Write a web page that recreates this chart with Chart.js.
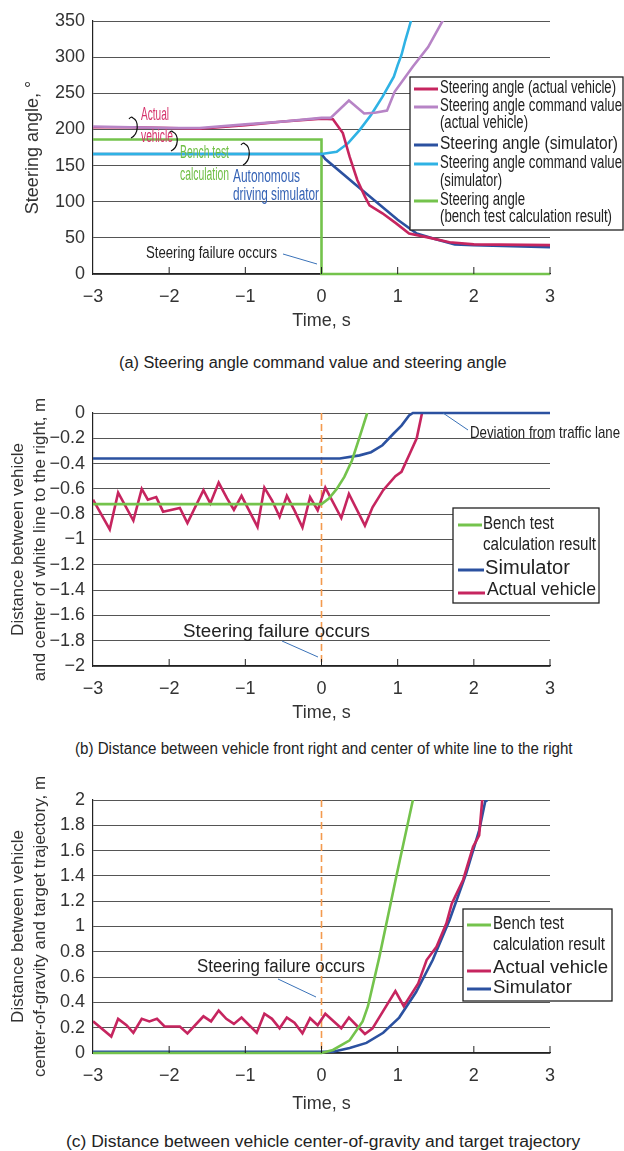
<!DOCTYPE html>
<html>
<head>
<meta charset="utf-8">
<script src="https://cdn.jsdelivr.net/npm/chart.js@4.4.1/dist/chart.umd.min.js"></script>
<style>
  body { margin: 0; background: #fff; }
  #page { position: relative; width: 624px; height: 1151px; overflow: hidden; font-family: "Liberation Sans", Arial, sans-serif; }
  canvas { position: absolute; left: 0; }
  .cap { position: absolute; white-space: nowrap; color: #222; font-size: 16px; line-height: 20px; transform-origin: 0 50%; }
</style>
</head>
<body>
<div id="page">
  <canvas id="chartA" width="624" height="345" style="top:0px"></canvas>
  <div class="cap" data-x="119" data-y="363" data-w="388">(a) Steering angle command value and steering angle</div>
  <canvas id="chartB" width="624" height="350" style="top:385px"></canvas>
  <div class="cap" data-x="75" data-y="749" data-w="498">(b) Distance between vehicle front right and center of white line to the right</div>
  <canvas id="chartC" width="624" height="350" style="top:775px"></canvas>
  <div class="cap" data-x="66" data-y="1142" data-w="514">(c) Distance between vehicle center-of-gravity and target trajectory</div>
</div>
<script>
// ---- data ----
// (a) steering angle, deg
const aActualT = [-3, -2.5, -2, -1.6, -1, -0.5, 0, 0.15, 0.28, 0.37, 0.47, 0.57, 0.63, 0.8, 0.98, 1.15, 1.38, 1.68, 2, 3];
const aActualV = [203, 203, 202, 201, 206, 211, 215, 214, 195, 162, 130, 107, 95, 84, 70, 56, 51, 44, 41, 40];
const aCmdT = [-3, -2.5, -2, -1.6, -1, -0.5, 0, 0.12, 0.36, 0.56, 0.7, 0.86, 0.96, 1.2, 1.4, 1.6];
const aCmdV = [204, 203, 202, 202, 207, 211, 216, 216, 240, 222, 223, 226, 252, 287, 314, 352];
const aSimT = [-3, 0, 0.05, 0.5, 1.0, 1.25, 1.5, 1.75, 2, 3];
const aSimV = [166, 166, 159, 119, 75, 56, 48, 41, 40, 37];
const aSimCmdT = [-3, 0, 0.2, 0.35, 0.5, 0.65, 0.8, 0.95, 1.0, 1.05, 1.1, 1.15, 1.19];
const aSimCmdV = [166, 166, 169, 181, 199, 220, 245, 273, 289, 303, 323, 341, 356];
const aBenchT = [-3, 0, 0, 3];
const aBenchV = [186, 186, 0, 0];

// (b) distance to white line on the right, m
const bBenchT = [-3, 0, 0.1, 0.2, 0.3, 0.4, 0.5, 0.6];
const bBenchV = [-0.72, -0.72, -0.675, -0.6, -0.505, -0.375, -0.19, 0];
const bSimT = [-3, 0.24, 0.5, 0.65, 0.8, 0.95, 1.05, 1.15, 1.2, 3];
const bSimV = [-0.36, -0.36, -0.335, -0.31, -0.255, -0.16, -0.1, -0.02, 0, 0];
const bActT = [-3, -2.78, -2.67, -2.47, -2.36, -2.28, -2.17, -2.08, -1.86, -1.76, -1.55, -1.46, -1.35, -1.24, -1.15, -1.05,
  -0.84, -0.75, -0.65, -0.55, -0.455, -0.355, -0.25, -0.15, -0.05, 0.05, 0.26, 0.36, 0.57, 0.67, 0.81, 0.97, 1.05, 1.16, 1.25, 1.32];
const bActV = [-0.685, -0.92, -0.63, -0.85, -0.6, -0.685, -0.665, -0.78, -0.75, -0.87, -0.61, -0.715, -0.55, -0.675, -0.765, -0.655,
  -0.9, -0.59, -0.69, -0.82, -0.655, -0.77, -0.905, -0.665, -0.77, -0.59, -0.83, -0.64, -0.89, -0.745, -0.61, -0.5, -0.465, -0.32, -0.2, 0];

// (c) distance to target trajectory, m
const cBenchT = [-3, 0, 0.15, 0.37, 0.54, 0.61, 0.76, 0.98, 1.2];
const cBenchV = [0, 0, 0.024, 0.1, 0.25, 0.37, 0.76, 1.39, 2.0];
const cSimT = [-3, 0.15, 0.37, 0.59, 0.81, 1.02, 1.24, 1.46, 1.68, 1.9, 2.07, 2.15, 2.18];
const cSimV = [0.01, 0.01, 0.04, 0.08, 0.16, 0.28, 0.48, 0.735, 1.05, 1.42, 1.76, 1.99, 2.0];
const cActT = [-3, -2.76, -2.67, -2.56, -2.47, -2.36, -2.26, -2.16, -2.06, -1.86, -1.76, -1.55, -1.45, -1.35, -1.25, -1.15, -1.05,
  -0.85, -0.75, -0.65, -0.55, -0.455, -0.355, -0.25, -0.15, -0.05, 0.05, 0.26, 0.36, 0.57, 0.67, 0.97, 1.08, 1.27, 1.38, 1.51, 1.64, 1.71, 1.86, 1.99, 2.07, 2.11];
const cActV = [0.25, 0.13, 0.27, 0.22, 0.16, 0.27, 0.25, 0.27, 0.21, 0.21, 0.155, 0.29, 0.25, 0.335, 0.27, 0.23, 0.28,
  0.16, 0.31, 0.27, 0.195, 0.28, 0.24, 0.155, 0.275, 0.22, 0.31, 0.195, 0.28, 0.15, 0.195, 0.49, 0.37, 0.55, 0.735, 0.84, 1.025, 1.18, 1.37, 1.63, 1.72, 2.0];

const xTicks = [-3, -2, -1, 0, 1, 2, 3];

// colours
const RED = '#c6255f', PURPLE = '#b784c6', NAVY = '#2b51a0', CYAN = '#2fb2e4', GREEN = '#74c34c';
const FONT = '"Liberation Sans", Arial, Helvetica, sans-serif';

function pts(t, v) { return t.map((x, i) => ({ x: x, y: v[i] })); }
function fmt(v) { return String(Math.round(v * 10) / 10).replace('-', '\u2212'); }

// text helper, squeezes to a target width when given
function txt(ctx, s, x, y, size, color, w) {
  ctx.save();
  ctx.font = size + 'px ' + FONT;
  ctx.fillStyle = color;
  ctx.textBaseline = 'middle';
  ctx.textAlign = 'left';
  const k = w ? w / ctx.measureText(s).width : 1;
  ctx.translate(x, y);
  ctx.scale(k, 1);
  ctx.fillText(s, 0, 0);
  ctx.restore();
}

function seg(ctx, x1, y1, x2, y2, color, width) {
  ctx.save();
  ctx.strokeStyle = color;
  ctx.lineWidth = width;
  ctx.beginPath();
  ctx.moveTo(x1, y1);
  ctx.lineTo(x2, y2);
  ctx.stroke();
  ctx.restore();
}

// extra drawing: inward x ticks, t=0 dashed marker, notes, boxed legend (page coords)
function deco(top, spec) {
  return {
    id: 'deco',
    beforeDatasetsDraw(chart) {
      if (!spec.dash0) return;
      const ctx = chart.ctx, a = chart.chartArea;
      const x = chart.scales.x.getPixelForValue(0);
      ctx.save();
      ctx.setLineDash([7, 4]);
      seg(ctx, x, a.top, x, a.bottom, '#f39a4e', 1.6);
      ctx.restore();
    },
    afterDraw(chart) {
      const ctx = chart.ctx, a = chart.chartArea;
      xTicks.slice(1).forEach(v => {
        const x = chart.scales.x.getPixelForValue(v);
        seg(ctx, x, a.bottom, x, a.bottom - 7, '#222', 1);
      });
      (spec.leaders || []).forEach(l => seg(ctx, l[0], l[1] - top, l[2], l[3] - top, '#3a72b8', 1));
      (spec.braces || []).forEach(b => {
        ctx.save();
        ctx.strokeStyle = '#111';
        ctx.lineWidth = 1.2;
        ctx.beginPath();
        ctx.moveTo(b[0] - 2, b[1] - top + 2);
        ctx.quadraticCurveTo(b[0], b[1] - top - 1, b[0] + 2, b[1] - top + 1);
        ctx.bezierCurveTo(b[0] + 8, b[1] - top + 4, b[0] + 8, b[2] - top - 4, b[0], b[2] - top);
        ctx.stroke();
        ctx.restore();
      });
      (spec.notes || []).forEach(n => txt(ctx, n[0], n[1], n[2] - top, n[3], n[4], n[5]));
      if (spec.legend) {
        const L = spec.legend;
        ctx.save();
        ctx.fillStyle = '#fff';
        ctx.strokeStyle = '#222';
        ctx.lineWidth = 1.3;
        ctx.fillRect(L.box[0], L.box[1] - top, L.box[2], L.box[3]);
        ctx.strokeRect(L.box[0], L.box[1] - top, L.box[2], L.box[3]);
        ctx.restore();
        L.swatches.forEach(s => seg(ctx, s[0], s[2] - top, s[1], s[2] - top, s[3], 3));
        L.texts.forEach(n => txt(ctx, n[0], n[1], n[2] - top, n[3], '#222', n[4]));
      }
    }
  };
}

function makeChart(id, top, H, area, titleY, yCfg, datasets, spec) {
  const xH = H - (area.bottom - top);
  return new Chart(document.getElementById(id), {
    type: 'line',
    data: { datasets: datasets },
    options: {
      responsive: false,
      animation: false,
      layout: { padding: { top: area.top - top, right: 74, left: 0, bottom: 0 } },
      plugins: { legend: { display: false }, tooltip: { enabled: false } },
      elements: { point: { radius: 0 }, line: { tension: 0, borderWidth: 2.6 } },
      scales: {
        x: {
          type: 'linear', min: -3, max: 3,
          afterBuildTicks: s => { s.ticks = xTicks.map(v => ({ value: v })); },
          ticks: { padding: 4, font: { size: 18, family: FONT }, color: '#333', callback: fmt },
          grid: { display: false },
          border: { color: '#222', width: 1.2 },
          title: { display: true, text: 'Time, s', color: '#333', font: { size: 18, family: FONT },
                   padding: { top: 0, bottom: (top + H - titleY) - 10.8 } },
          afterFit: s => { s.height = xH; }
        },
        y: {
          min: yCfg.min, max: yCfg.max,
          ticks: { stepSize: yCfg.step, padding: 8, font: { size: 18, family: FONT }, color: '#333', callback: fmt },
          grid: { color: '#555', lineWidth: 1, drawTicks: false },
          border: { color: '#222', width: 1.2 },
          title: { display: true, text: yCfg.title, color: '#333',
                   font: { size: yCfg.titleSize, family: FONT, lineHeight: 1.3 },
                   padding: { top: yCfg.titlePad, bottom: 0 } },
          afterFit: s => { s.width = 93; }
        }
      }
    },
    plugins: [deco(top, spec)]
  });
}

// (a)
makeChart('chartA', 0, 345, { top: 21, bottom: 274 }, 321,
  { min: 0, max: 350, step: 50, title: 'Steering angle, \u00b0', titleSize: 18, titlePad: 21 },
  [
    { data: pts(aCmdT, aCmdV), borderColor: PURPLE },
    { data: pts(aActualT, aActualV), borderColor: RED },
    { data: pts(aSimCmdT, aSimCmdV), borderColor: CYAN },
    { data: pts(aSimT, aSimV), borderColor: NAVY },
    { data: pts(aBenchT, aBenchV), borderColor: GREEN, clip: { left: 0, top: 0, right: 0, bottom: 3 } }
  ],
  {
    notes: [
      ['Actual', 141, 115, 18, '#d6336c', 28], ['vehicle', 141, 137, 18, '#d6336c', 32],
      ['Bench test', 180, 153, 18, '#6fbf45', 49], ['calculation', 180, 175, 18, '#6fbf45', 49],
      ['Autonomous', 233, 177, 18, '#3462b5', 67], ['driving simulator', 233, 195, 18, '#3462b5', 86],
      ['Steering failure occurs', 146, 253, 17, '#222', 131]
    ],
    braces: [[131, 117, 138], [171, 131, 151], [243, 143, 165]],
    leaders: [[283, 254, 317, 264]],
    legend: {
      box: [410, 77, 213, 153],
      swatches: [[414, 438, 89, RED], [414, 438, 107, PURPLE], [414, 438, 145, NAVY], [414, 438, 164, CYAN], [414, 438, 201, GREEN]],
      texts: [
        ['Steering angle (actual vehicle)', 440, 88, 18, 176],
        ['Steering angle command value', 440, 106, 18, 182],
        ['(actual vehicle)', 440, 123, 18, 88],
        ['Steering angle (simulator)', 440, 144, 19, 178],
        ['Steering angle command value', 440, 163, 18, 182],
        ['(simulator)', 440, 181, 18, 62],
        ['Steering angle', 440, 200, 18, 85],
        ['(bench test calculation result)', 440, 217, 18, 172]
      ]
    }
  });

// (b)
makeChart('chartB', 385, 350, { top: 413, bottom: 666 }, 713,
  { min: -2, max: 0, step: 0.2, title: ['Distance between vehicle', 'and center of white line to the right, m'], titleSize: 17, titlePad: 7 },
  [
    { data: pts(bBenchT, bBenchV), borderColor: GREEN },
    { data: pts(bSimT, bSimV), borderColor: NAVY, clip: { left: 0, top: 3, right: 0, bottom: 0 } },
    { data: pts(bActT, bActV), borderColor: RED }
  ],
  {
    dash0: true,
    notes: [
      ['Steering failure occurs', 183, 632, 18, '#222', 187],
      ['Deviation from traffic lane', 470, 433, 17, '#222', 150]
    ],
    leaders: [[282, 641, 318, 657], [443, 413, 468, 430]],
    legend: {
      box: [453, 508, 146, 95],
      swatches: [[458, 482, 525, GREEN], [458, 484, 570, NAVY], [458, 485, 593, RED]],
      texts: [
        ['Bench test', 483, 524, 18, 71],
        ['calculation result', 483, 545, 18, 113],
        ['Simulator', 485, 568, 20, 85],
        ['Actual vehicle', 487, 590, 19, 109]
      ]
    }
  });

// (c)
makeChart('chartC', 775, 350, { top: 800, bottom: 1053 }, 1104,
  { min: 0, max: 2, step: 0.2, title: ['Distance between vehicle', 'center-of-gravity and target trajectory, m'], titleSize: 17, titlePad: 7 },
  [
    { data: pts(cBenchT, cBenchV), borderColor: GREEN, clip: { left: 0, top: 0, right: 0, bottom: 3 } },
    { data: pts(cActT, cActV), borderColor: RED },
    { data: pts(cSimT, cSimV), borderColor: NAVY }
  ],
  {
    dash0: true,
    notes: [['Steering failure occurs', 197, 967, 18, '#222', 168]],
    leaders: [[278, 979, 316, 997]],
    legend: {
      box: [463, 909, 149, 92],
      swatches: [[467, 491, 925, GREEN], [467, 491, 971, RED], [467, 491, 989, NAVY]],
      texts: [
        ['Bench test', 493, 924, 18, 71],
        ['calculation result', 493, 945, 18, 112],
        ['Actual vehicle', 493, 968, 19, 115],
        ['Simulator', 493, 988, 19, 79]
      ]
    }
  });

// captions squeezed to the reference widths
document.querySelectorAll('.cap').forEach(el => {
  el.style.left = el.dataset.x + 'px';
  el.style.top = (el.dataset.y - 10) + 'px';
  el.style.transform = 'scaleX(' + (el.dataset.w / el.offsetWidth) + ')';
});
</script>
</body>
</html>
